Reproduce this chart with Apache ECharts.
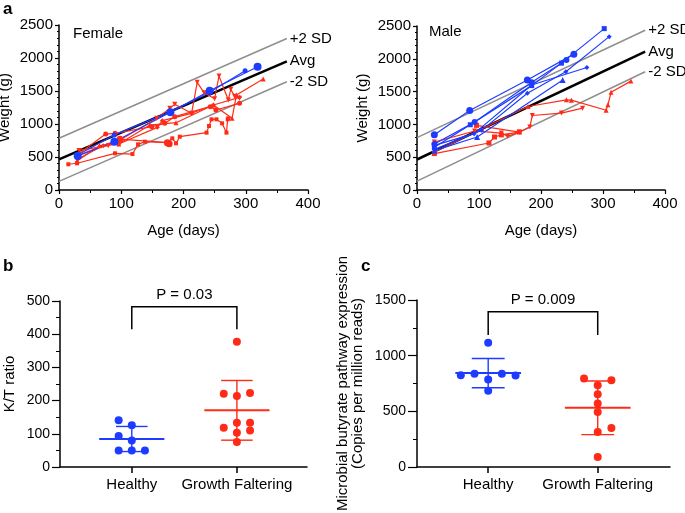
<!DOCTYPE html>
<html><head><meta charset="utf-8">
<script src="https://cdn.jsdelivr.net/npm/echarts@6/dist/echarts.min.js"></script>
<style>html,body{margin:0;padding:0;background:#fff}#c{width:685px;height:513px}</style>
</head><body><div id="c"></div>
<script>
// ---------- Panel a: reference curves [age (days), weight (g)] ----------
const femalePlus2SD = [[0, 785], [366, 2295]];
const femaleAvg     = [[0, 465], [366, 1950]];
const femaleMinus2SD= [[0, 130], [366, 1640]];
const malePlus2SD   = [[0, 798], [368, 2435]];
const maleAvg       = [[0, 465], [368, 2110]];
const maleMinus2SD  = [[0, 136], [368, 1803]];
const refLabels = ['+2 SD', 'Avg', '-2 SD'];

// ---------- Panel a: female individual growth curves ----------
const femaleBlueA = [[30, 515], [89, 732], [179, 1177], [242, 1505], [319, 1868]];
const femaleBlueB = [[30, 530], [89, 835], [178, 1180], [242, 1480], [299, 1808]];
const femaleRedA = [[15, 390], [29, 405], [90, 556], [118, 545], [127, 692], [138, 732], [174, 717], [182, 783], [188, 707], [194, 808], [237, 869], [241, 970], [245, 1071], [253, 1071], [262, 1010], [269, 869], [271, 1071], [272, 1086]];
const femaleRedB = [[29, 440], [65, 672], [96, 697], [146, 985], [188, 1020], [248, 1288], [278, 1086], [285, 1439], [328, 1682]];
const femaleRedC = [[32, 600], [79, 672], [98, 758], [157, 1086], [178, 1237], [186, 1298], [213, 1162], [222, 1631], [233, 1475], [250, 1384], [257, 1727], [272, 1364], [276, 1525], [282, 1420], [290, 1390]];
const femaleRedD = [[29, 530], [75, 848], [90, 858], [149, 960], [170, 1010], [186, 1111], [243, 1263], [252, 1212], [290, 1313]];
const femaleRedE = [[30, 470], [71, 672], [96, 697], [158, 949], [166, 1050], [213, 1162], [248, 1288], [290, 1404]];
const femaleRedF = [[30, 520], [98, 770], [174, 717], [177, 700]];

// ---------- Panel a: male individual growth curves ----------
const maleBlueA = [[28, 843], [85, 1212], [178, 1677], [253, 2071]];
const maleBlueB = [[28, 700], [93, 1035], [185, 1641], [241, 1980]];
const maleBlueC = [[28, 650], [86, 995], [185, 1591], [233, 1934], [302, 2460]];
const maleBlueD = [[28, 620], [104, 909], [178, 1474], [240, 1803], [310, 2338]];
const maleBlueE = [[28, 600], [97, 808], [235, 1677]];
const maleBlueF = [[28, 680], [92, 859], [185, 1600], [274, 1868]];
const maleRedA = [[28, 580], [179, 1273], [241, 1374], [249, 1370], [305, 1215], [308, 1300], [313, 1490], [345, 1660]];
const maleRedB = [[28, 730], [93, 900], [136, 868], [146, 818], [165, 883], [182, 959], [186, 1136], [233, 1172], [267, 1247]];
const maleRedC = [[28, 555], [116, 717], [125, 808], [136, 840], [165, 883], [96, 985]];

// ---------- Panels b and c ----------
const groups = ['Healthy', 'Growth Faltering'];
const ktHealthy = [141, 126, 93, 80, 50, 50, 50];
const ktHealthyJitter = [-1, 0, -1, 0, -1, 0, 1];
const ktGF = [377, 221, 214, 223, 118, 133, 133, 103, 110, 75];
const ktGFJitter = [0, -1, 0, 1, -1, 0, 1, 0, 1, 0];
const butHealthy = [1116, 823, 837, 787, 837, 821, 684];
const butHealthyJitter = [0, -2, -1, 0, 1, 2, 0];
const butGF = [795, 780, 735, 654, 570, 495, 351, 315, 90];
const butGFJitter = [-1, 1, 0, 0, 0, 0, 1, 0, 0];
const ktBracket = [415, 483];     // [leg bottom, top]
const butBracket = [1185, 1395];
const ktP = 'P = 0.03';
const butP = 'P = 0.009';

const FONT = '"Liberation Sans", Arial, Helvetica, sans-serif';
const BLUE = '#1e3cff', RED = '#ff2b17', GREY = '#8e8e8e';

const chart = echarts.init(document.getElementById('c'), null, {renderer: 'canvas'});

function mean(a) { return a.reduce((s, v) => s + v, 0) / a.length; }
function sd(a) { const m = mean(a); return Math.sqrt(a.reduce((s, v) => s + (v - m) * (v - m), 0) / (a.length - 1)); }

function lineS(data, color, symbol, size, idx, opts) {
  const inv = symbol === 'inv';
  return Object.assign({
    type: 'line', xAxisIndex: idx, yAxisIndex: idx, data: data,
    symbol: inv ? 'triangle' : symbol, symbolRotate: inv ? 180 : 0, symbolSize: size,
    showSymbol: true, lineStyle: {color: color, width: 1.2}, itemStyle: {color: color},
    emphasis: {disabled: true}, animation: false, z: 3
  }, opts || {});
}
function refS(data, name, color, width, idx) {
  return {
    type: 'line', name: name, xAxisIndex: idx, yAxisIndex: idx, data: data, symbol: 'none',
    lineStyle: {color: color, width: width}, clip: false, animation: false, z: 2,
    endLabel: {show: true, formatter: name, color: '#000', fontSize: 15, fontFamily: FONT, distance: 3}
  };
}
const J = 0.125;
function pts(vals, jit, center) { return vals.map((v, i) => [center + jit[i] * J, v]); }

function errRender(halfMean, halfCap) {
  return function (params, api) {
    const x = api.value(0), m = api.value(1), s = api.value(2);
    const color = api.value(3) === 0 ? BLUE : RED;
    const c = api.coord([x, m]), t = api.coord([x, m + s]), b = api.coord([x, m - s]);
    const w = api.size([halfMean, 0])[0], cw = api.size([halfCap, 0])[0];
    return {type: 'group', children: [
      {type: 'line', shape: {x1: c[0] - w, y1: c[1], x2: c[0] + w, y2: c[1]}, style: {stroke: color, lineWidth: 2}},
      {type: 'line', shape: {x1: t[0], y1: t[1], x2: b[0], y2: b[1]}, style: {stroke: color, lineWidth: 1.4}},
      {type: 'line', shape: {x1: t[0] - cw, y1: t[1], x2: t[0] + cw, y2: t[1]}, style: {stroke: color, lineWidth: 1.4}},
      {type: 'line', shape: {x1: b[0] - cw, y1: b[1], x2: b[0] + cw, y2: b[1]}, style: {stroke: color, lineWidth: 1.4}}
    ]};
  };
}
function bracketRender(label) {
  return function (params, api) {
    const lo = api.value(0), hi = api.value(1);
    const p1 = api.coord([1, lo]), p2 = api.coord([1, hi]), p3 = api.coord([2, hi]), p4 = api.coord([2, lo]);
    return {type: 'group', children: [
      {type: 'polyline', shape: {points: [p1, p2, p3, p4]}, style: {stroke: '#000', lineWidth: 1.5, fill: null}},
      {type: 'text', style: {text: label, x: (p2[0] + p3[0]) / 2, y: p2[1] - 4, align: 'center', verticalAlign: 'bottom',
        fontSize: 15, fontFamily: FONT, fill: '#000'}}
    ]};
  };
}

const axisLineS = {lineStyle: {color: '#000', width: 1.5}};
const txt = {color: '#000', fontFamily: FONT};
const plain = v => String(v);

function weightAxes(idx) {
  return {
    x: {gridIndex: idx, type: 'value', min: 0, max: 400, interval: 100,
      axisLine: axisLineS, axisTick: {length: 4, lineStyle: {color: '#000', width: 1.2}},
      minorTick: {show: true, splitNumber: 2, length: 3, lineStyle: {color: '#000', width: 1}},
      splitLine: {show: false}, axisLabel: Object.assign({fontSize: 15, margin: 6, formatter: plain}, txt),
      name: 'Age (days)', nameLocation: 'middle', nameGap: 33, nameTextStyle: Object.assign({fontSize: 15}, txt)},
    y: {gridIndex: idx, type: 'value', min: 0, max: 2500, interval: 500,
      axisLine: axisLineS, axisTick: {length: 4, lineStyle: {color: '#000', width: 1.2}},
      minorTick: {show: true, splitNumber: 5, length: 2, lineStyle: {color: '#000', width: 1}},
      splitLine: {show: false}, axisLabel: Object.assign({fontSize: 15, margin: 6, formatter: plain}, txt),
      name: 'Weight (g)', nameLocation: 'middle', nameGap: 47, nameRotate: 90, nameTextStyle: Object.assign({fontSize: 15}, txt)}
  };
}
const wa0 = weightAxes(0), wa1 = weightAxes(1);

function groupXAxis(idx, min, max) {
  return {gridIndex: idx, type: 'value', min: min, max: max,
    axisLine: axisLineS,
    axisTick: {length: 6, customValues: [1, 2], lineStyle: {color: '#000', width: 1.5}},
    axisLabel: Object.assign({fontSize: 15, margin: 10, customValues: [1, 2],
      formatter: v => groups[Math.round(v) - 1] || ''}, txt),
    splitLine: {show: false}};
}

const option = {
  backgroundColor: '#fff',
  animation: false,
  textStyle: {fontFamily: FONT},
  title: [
    {text: 'Female', left: 73, top: 26, padding: 0, textStyle: {fontSize: 15, fontWeight: 'normal', color: '#000', fontFamily: FONT}},
    {text: 'Male', left: 429, top: 24, padding: 0, textStyle: {fontSize: 15, fontWeight: 'normal', color: '#000', fontFamily: FONT}}
  ],
  graphic: [
    {type: 'text', left: 3, top: 1, style: {text: 'a', fontSize: 17, fontWeight: 'bold', fill: '#000', fontFamily: FONT}},
    {type: 'text', left: 3, top: 258, style: {text: 'b', fontSize: 17, fontWeight: 'bold', fill: '#000', fontFamily: FONT}},
    {type: 'text', left: 361, top: 258, style: {text: 'c', fontSize: 17, fontWeight: 'bold', fill: '#000', fontFamily: FONT}}
  ],
  grid: [
    {left: 59, top: 25, width: 249, height: 165, outerBoundsMode: 'none'},
    {left: 417, top: 26, width: 248, height: 164, outerBoundsMode: 'none'},
    {left: 60, top: 301, width: 247, height: 166, outerBoundsMode: 'none'},
    {left: 417, top: 300, width: 253, height: 167, outerBoundsMode: 'none'}
  ],
  xAxis: [wa0.x, wa1.x, groupXAxis(2, 0.317, 2.667), groupXAxis(3, 0.35, 2.66)],
  yAxis: [wa0.y, wa1.y,
    {gridIndex: 2, type: 'value', min: 0, max: 500, interval: 100,
      axisLine: axisLineS, axisTick: {length: 8, lineStyle: {color: '#000', width: 1.2}},
      minorTick: {show: true, splitNumber: 2, length: 4, lineStyle: {color: '#000', width: 1}},
      splitLine: {show: false}, axisLabel: Object.assign({fontSize: 14, margin: 10, formatter: plain}, txt),
      name: 'K/T ratio', nameLocation: 'middle', nameGap: 43, nameRotate: 90, nameTextStyle: Object.assign({fontSize: 15}, txt)},
    {gridIndex: 3, type: 'value', min: 0, max: 1500, interval: 500,
      axisLine: axisLineS, axisTick: {length: 9, lineStyle: {color: '#000', width: 1.2}},
      minorTick: {show: true, splitNumber: 2, length: 4, lineStyle: {color: '#000', width: 1}},
      splitLine: {show: false}, axisLabel: Object.assign({fontSize: 14, margin: 11, formatter: plain}, txt),
      name: 'Microbial butyrate pathway expression\n(Copies per million reads)', nameLocation: 'middle', nameGap: 52, nameRotate: 90,
      nameTextStyle: Object.assign({fontSize: 15, lineHeight: 15}, txt)}
  ],
  series: [
    // Female
    refS(femalePlus2SD, refLabels[0], GREY, 1.5, 0),
    refS(femaleAvg, refLabels[1], '#000', 2.5, 0),
    refS(femaleMinus2SD, refLabels[2], GREY, 1.5, 0),
    lineS(femaleRedA, RED, 'rect', 4, 0),
    lineS(femaleRedB, RED, 'triangle', 5, 0),
    lineS(femaleRedC, RED, 'inv', 5, 0),
    lineS(femaleRedD, RED, 'circle', 5, 0),
    lineS(femaleRedE, RED, 'diamond', 5, 0),
    lineS(femaleRedF, RED, 'circle', 7, 0),
    lineS(femaleBlueB, BLUE, 'circle', 5, 0),
    lineS(femaleBlueA, BLUE, 'circle', 8, 0),
    // Male
    refS(malePlus2SD, refLabels[0], GREY, 1.5, 1),
    refS(maleAvg, refLabels[1], '#000', 2.5, 1),
    refS(maleMinus2SD, refLabels[2], GREY, 1.5, 1),
    lineS(maleRedA, RED, 'triangle', 5, 1),
    lineS(maleRedB, RED, 'inv', 5, 1),
    lineS(maleRedC, RED, 'rect', 5, 1),
    lineS(maleBlueA, BLUE, 'circle', 7, 1),
    lineS(maleBlueB, BLUE, 'circle', 6, 1),
    lineS(maleBlueC, BLUE, 'rect', 5, 1),
    lineS(maleBlueD, BLUE, 'diamond', 5, 1),
    lineS(maleBlueE, BLUE, 'triangle', 6, 1),
    lineS(maleBlueF, BLUE, 'diamond', 5, 1),
    // Panel b
    {type: 'scatter', xAxisIndex: 2, yAxisIndex: 2, data: pts(ktHealthy, ktHealthyJitter, 1), symbolSize: 8, itemStyle: {color: BLUE, opacity: 1}, z: 3},
    {type: 'scatter', xAxisIndex: 2, yAxisIndex: 2, data: pts(ktGF, ktGFJitter, 2), symbolSize: 8, itemStyle: {color: RED, opacity: 1}, z: 3},
    {type: 'custom', xAxisIndex: 2, yAxisIndex: 2, renderItem: errRender(0.31, 0.15), z: 4,
      data: [[1, mean(ktHealthy), sd(ktHealthy), 0], [2, mean(ktGF), sd(ktGF), 1]]},
    {type: 'custom', xAxisIndex: 2, yAxisIndex: 2, renderItem: bracketRender(ktP), data: [ktBracket], clip: false},
    // Panel c
    {type: 'scatter', xAxisIndex: 3, yAxisIndex: 3, data: pts(butHealthy, butHealthyJitter, 1), symbolSize: 8, itemStyle: {color: BLUE, opacity: 1}, z: 3},
    {type: 'scatter', xAxisIndex: 3, yAxisIndex: 3, data: pts(butGF, butGFJitter, 2), symbolSize: 8, itemStyle: {color: RED, opacity: 1}, z: 3},
    {type: 'custom', xAxisIndex: 3, yAxisIndex: 3, renderItem: errRender(0.30, 0.15), z: 4,
      data: [[1, mean(butHealthy), sd(butHealthy), 0], [2, mean(butGF), sd(butGF), 1]]},
    {type: 'custom', xAxisIndex: 3, yAxisIndex: 3, renderItem: bracketRender(butP), data: [butBracket], clip: false}
  ]
};
chart.setOption(option);
</script>
</body></html>
